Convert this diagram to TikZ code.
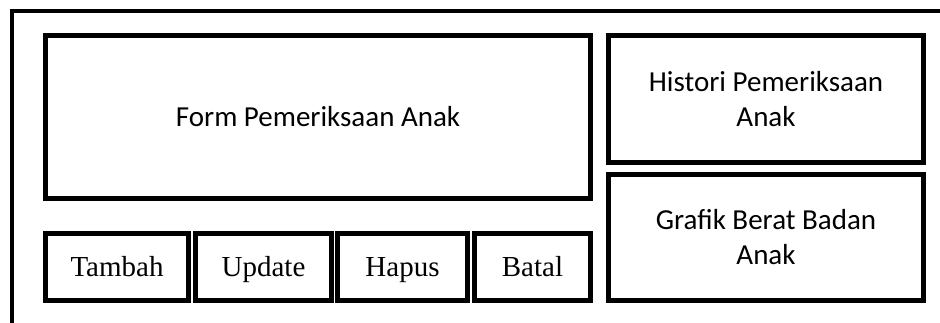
\documentclass[tikz,border=0pt]{standalone}
\usepackage{fontspec}
\newfontfamily\carlito{Carlito}
\newfontfamily\timesf{Liberation Serif}
\begin{document}
\begin{tikzpicture}[x=1pt,y=-1pt,
  panel/.style={draw=black,line width=5pt,inner sep=0pt,align=center,
    font=\carlito\fontsize{29}{35}\selectfont},
  btn/.style={draw=black,line width=5pt,inner sep=0pt,align=center,
    minimum height=67pt,text height=19.2pt,text depth=0pt,
    font=\timesf\fontsize{29}{35}\selectfont}]
\useasboundingbox (0,0) rectangle (940,323);
\coordinate (fbl) at (12,323);
\coordinate (ftl) at (12,11.5);
\coordinate (ftr) at (940,11.5);
\draw[line width=4pt] (fbl) -- (ftl) -- (ftr);
\node[panel,minimum width=545pt,minimum height=163pt] (form) at (318,117) {Form Pemeriksaan Anak};
\node[btn,minimum width=143pt] (tambah) at (117,267) {Tambah};
\node[btn,minimum width=136pt] (update) at (263.5,267) {Update};
\node[btn,minimum width=130pt] (hapus) at (402.5,267) {Hapus};
\node[btn,minimum width=116pt] (batal) at (532.5,267) {Batal};
\node[panel,minimum width=315pt,minimum height=127pt] (histori) at (766,99) {Histori Pemeriksaan\\Anak};
\node[panel,minimum width=315pt,minimum height=126pt] (grafik) at (766,237.5) {Grafik Berat Badan\\Anak};
\end{tikzpicture}
\end{document}
